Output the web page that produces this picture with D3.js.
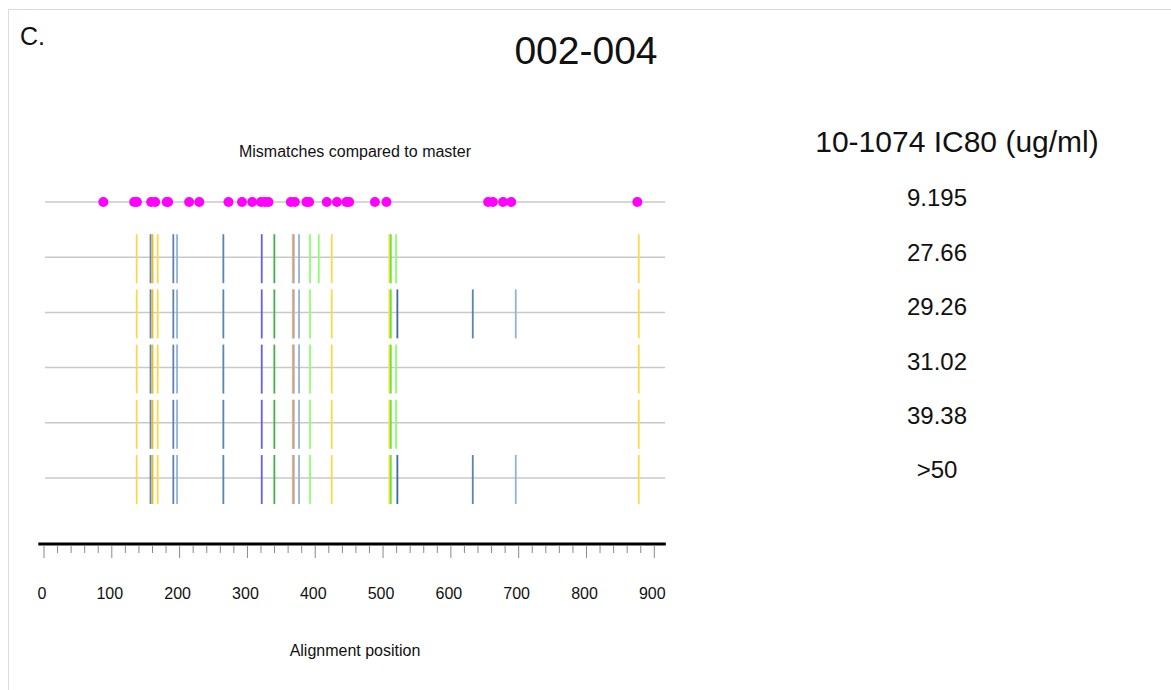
<!DOCTYPE html>
<html><head><meta charset="utf-8">
<script src="https://cdn.jsdelivr.net/npm/d3@7/dist/d3.min.js"></script>
<style>
html,body{margin:0;padding:0;background:#fff;}
svg{display:block;font-family:"Liberation Sans",Arial,Helvetica,sans-serif;}
</style></head>
<body>
<svg id="chart" width="1171" height="690"></svg>
<script>
// ---- data ----
const panelLabel = "C.";
const title = "002-004";
const plotTitle = "Mismatches compared to master";
const xAxisTitle = "Alignment position";
const icTitle = "10-1074 IC80 (ug/ml)";
const icValues = ["9.195", "27.66", "29.26", "31.02", "39.38", ">50"];
const xTicks = [0, 100, 200, 300, 400, 500, 600, 700, 800, 900];
const masterDots = [87.5, 133, 137, 158, 164, 181, 183, 214, 229, 272, 292, 307, 320, 326, 331,
  364, 370, 387, 391, 417, 432, 446, 450, 488, 505, 655, 662, 677, 689, 875];
// mismatch types
const typeColors = {Y:"#ffd84a", O:"#f4b81c", B:"#5a84b6", LB:"#93b3d6", P:"#5f5ff0",
  DG:"#45b04a", LG:"#8cff6e", BG:"#5eea32", LV:"#b4bcec", OR:"#e9a23c", DB:"#3f6a9e"};
const row1 = [[136.7,"Y"],[157.1,"B"],[160.0,"O"],[167.7,"Y"],[190.7,"B"],[196.2,"LB"],[264.5,"B"],
  [321.1,"P"],[339.7,"DG"],[367.7,"LV"],[367.9,"OR"],[376.1,"LB"],[392.3,"LG"],[405.2,"LG"],[424.3,"Y"],
  [509.3,"Y"],[511.4,"BG"],[519.2,"LG"],[877.1,"Y"]];
const row2 = [[136.7,"Y"],[157.1,"B"],[160.0,"O"],[167.7,"Y"],[190.7,"B"],[196.2,"LB"],[264.5,"B"],
  [321.1,"P"],[339.7,"DG"],[367.7,"LV"],[367.9,"OR"],[376.1,"LB"],[392.3,"LG"],[424.3,"Y"],
  [509.3,"Y"],[511.4,"BG"],[521.1,"DB"],[632.3,"B"],[695.7,"LB"],[877.1,"Y"]];
const row3 = [[136.7,"Y"],[157.1,"B"],[160.0,"O"],[167.7,"Y"],[190.7,"B"],[196.2,"LB"],[264.5,"B"],
  [321.1,"P"],[339.7,"DG"],[367.7,"LV"],[367.9,"OR"],[376.1,"LB"],[392.3,"LG"],[424.3,"Y"],
  [509.3,"Y"],[511.4,"BG"],[519.2,"LG"],[877.1,"Y"]];
const row4 = [[136.7,"Y"],[157.1,"B"],[160.0,"O"],[167.7,"Y"],[190.7,"B"],[196.2,"LB"],[264.5,"B"],
  [321.1,"P"],[339.7,"DG"],[367.7,"LV"],[367.9,"OR"],[376.1,"LB"],[392.3,"LG"],[424.3,"Y"],
  [509.3,"Y"],[511.4,"BG"],[519.2,"LG"],[877.1,"Y"]];
const row5 = [[136.7,"Y"],[157.1,"B"],[160.0,"O"],[167.7,"Y"],[190.7,"B"],[196.2,"LB"],[264.5,"B"],
  [321.1,"P"],[339.7,"DG"],[367.7,"LV"],[367.9,"OR"],[376.1,"LB"],[392.3,"LG"],[424.3,"Y"],
  [509.3,"Y"],[511.4,"BG"],[521.1,"DB"],[632.3,"B"],[695.7,"LB"],[877.1,"Y"]];
const rows = [row1, row2, row3, row4, row5];

// ---- drawing ----
const svg = d3.select("#chart");
svg.append("rect").attr("x",8.5).attr("y",9.5).attr("width",1180).attr("height",700)
  .attr("fill","none").attr("stroke","#dcdcdc").attr("stroke-width",1);

svg.append("text").attr("x",20).attr("y",45).attr("font-size",25).attr("fill","#111").text(panelLabel);
svg.append("text").attr("x",586).attr("y",64).attr("text-anchor","middle").attr("font-size",39).attr("fill","#111").text(title);

const x = d3.scaleLinear().domain([0, 900]).range([44, 654.3]);
const y = d3.scalePoint().domain(d3.range(6)).range([202, 478]);
const yLab = d3.scalePoint().domain(d3.range(6)).range([198, 470]);

svg.append("text").attr("x",355).attr("y",157).attr("text-anchor","middle").attr("font-size",16).attr("fill","#111").text(plotTitle);

// row baselines
svg.append("g").selectAll("line").data(d3.range(6)).join("line")
  .attr("x1", x(1.5)).attr("x2", x(916))
  .attr("y1", d => y(d)).attr("y2", d => y(d))
  .attr("stroke","#c9c9c9").attr("stroke-width",1.5);

// mismatch ticks
rows.forEach((r, i) => {
  const yc = y(i + 1);
  svg.append("g").selectAll("line").data(r).join("line")
    .attr("x1", d => x(d[0])).attr("x2", d => x(d[0]))
    .attr("y1", yc - 23).attr("y2", yc + 26)
    .attr("stroke", d => typeColors[d[1]])
    .attr("stroke-width", d => d[1] === "LV" ? 3 : (d[1] === "OR" ? 1.2 : 1.8));
});

// master dots
svg.append("g").selectAll("circle").data(masterDots).join("circle")
  .attr("cx", d => x(d)).attr("cy", y(0)).attr("r", 5).attr("fill","#ff00ff");

// axis
const axisY = 544;
svg.append("line").attr("x1", x(-8.4)).attr("x2", x(917)).attr("y1", axisY).attr("y2", axisY)
  .attr("stroke","#000").attr("stroke-width",3);
const minor = d3.range(0, 901, 20);
svg.append("g").selectAll("line").data(minor).join("line")
  .attr("x1", d => x(d)).attr("x2", d => x(d))
  .attr("y1", axisY + 1.5).attr("y2", d => d % 100 === 0 ? 558 : 553)
  .attr("stroke","#8a8a8a").attr("stroke-width",1);
svg.append("g").selectAll("text").data(xTicks).join("text")
  .attr("x", d => x(d) - 2).attr("y", 599).attr("text-anchor","middle")
  .attr("font-size",16).attr("fill","#111").text(d => d);

svg.append("text").attr("x",355).attr("y",656).attr("text-anchor","middle").attr("font-size",16).attr("fill","#111").text(xAxisTitle);

// IC80 column
svg.append("text").attr("x",957).attr("y",152).attr("text-anchor","middle").attr("font-size",30).attr("fill","#111").text(icTitle);
svg.append("g").selectAll("text").data(icValues).join("text")
  .attr("x", 937).attr("y", (d, i) => yLab(i)).attr("dy","0.35em").attr("text-anchor","middle")
  .attr("font-size",24).attr("fill","#111").text(d => d);
</script>
</body></html>
